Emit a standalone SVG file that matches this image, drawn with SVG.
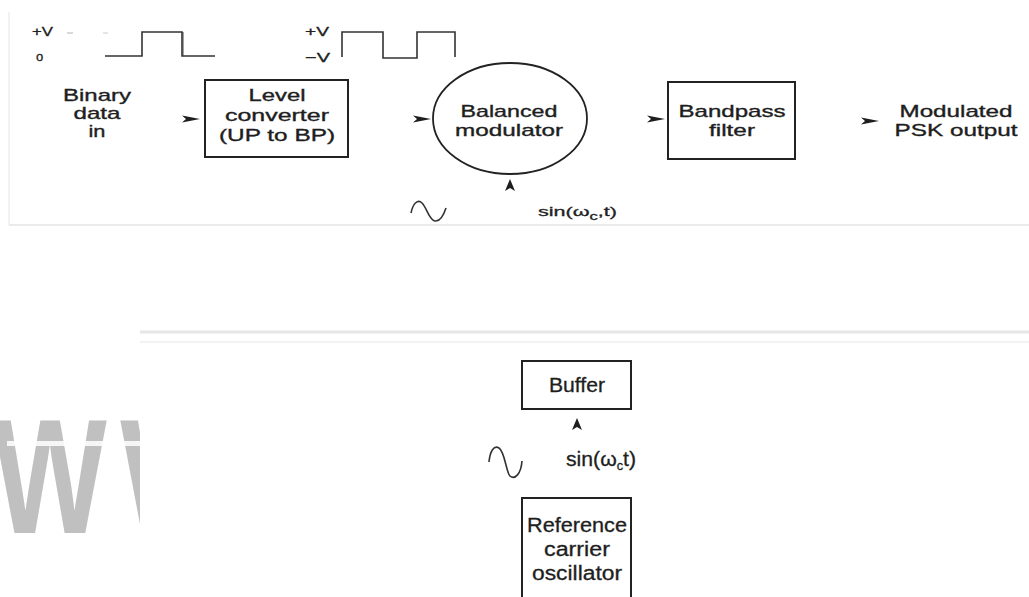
<svg xmlns="http://www.w3.org/2000/svg" width="1029" height="597" viewBox="0 0 1029 597">
<style>
.t{font-family:"Liberation Sans",Arial,sans-serif;font-size:17px;fill:#1e1e1e;stroke:#1e1e1e;stroke-width:0.35;text-anchor:middle}
.b{font-family:"Liberation Sans",Arial,sans-serif;font-size:20px;fill:#1e1e1e;stroke:#1e1e1e;stroke-width:0.3;text-anchor:middle}
.lbl{font-family:"Liberation Sans",Arial,sans-serif;font-size:13px;fill:#222;stroke:#222;stroke-width:0.3}
.box{fill:none;stroke:#222;stroke-width:2}
.wave{fill:none;stroke:#333;stroke-width:1.6}
.ah{fill:#1e1e1e}
</style>
<defs>
<path id="ah" d="M-18,-3.5 L0,0 L-18,3.5 L-14,0 Z"/>
<path id="au" d="M0,0 L5,12 L0,9 L-5,12 Z"/>
<clipPath id="wm"><rect x="0" y="300" width="140" height="297"/></clipPath>
</defs>
<rect width="1029" height="597" fill="#fff"/>
<g id="frame">
<line x1="9" y1="12" x2="9" y2="225" stroke="#f2f2f2" stroke-width="2"/>
<line x1="9" y1="225" x2="1029" y2="225" stroke="#ebebeb" stroke-width="2"/>
<line x1="140" y1="332" x2="1029" y2="332" stroke="#e6e6e6" stroke-width="3"/>
<line x1="140" y1="342" x2="1029" y2="342" stroke="#f3f3f3" stroke-width="2"/>
</g>
<g id="watermark" clip-path="url(#wm)">
<text x="0" y="533" transform="translate(-7 0) scale(0.74 1)" font-family="Liberation Sans,Arial,sans-serif" font-weight="bold" font-size="163" fill="#c0c0c0" letter-spacing="18">WW</text>
<rect x="7" y="441" width="133" height="5" fill="#fff" opacity="0.85"/>
</g>
<g id="waveform-unipolar">
<text class="lbl" x="32" y="36" textLength="21" lengthAdjust="spacingAndGlyphs">+V</text>
<text class="lbl" x="36" y="61">o</text>
<line x1="67" y1="33" x2="73" y2="33" stroke="#ccc" stroke-width="1.5"/>
<line x1="103" y1="33" x2="108" y2="33" stroke="#ddd" stroke-width="1.5"/>
<path class="wave" d="M105,56 H142 V32 H182 V56 H215"/>
<line x1="183" y1="32" x2="183" y2="56" stroke="#444" stroke-width="1"/>
</g>
<g id="waveform-bipolar">
<text class="lbl" x="305" y="36" textLength="24" lengthAdjust="spacingAndGlyphs">+V</text>
<text class="lbl" x="305" y="62" textLength="25" lengthAdjust="spacingAndGlyphs">−V</text>
<path class="wave" d="M342,57 V32 H383 V58 H417 V32 H455 V57"/>
</g>
<g id="binary-in">
<text class="t" x="97" y="101" textLength="68" lengthAdjust="spacingAndGlyphs">Binary</text>
<text class="t" x="97" y="119" textLength="47" lengthAdjust="spacingAndGlyphs">data</text>
<text class="t" x="97" y="137" textLength="17" lengthAdjust="spacingAndGlyphs">in</text>
</g>
<g id="level-converter">
<rect class="box" x="205" y="80" width="143" height="77"/>
<text class="t" x="277" y="101" textLength="57" lengthAdjust="spacingAndGlyphs">Level</text>
<text class="t" x="277" y="121" textLength="104" lengthAdjust="spacingAndGlyphs">converter</text>
<text class="t" x="277" y="141" textLength="116" lengthAdjust="spacingAndGlyphs">(UP to BP)</text>
</g>
<g id="balanced-modulator">
<ellipse cx="510" cy="118.5" rx="77" ry="55.5" fill="none" stroke="#222" stroke-width="1.8"/>
<text class="t" x="509" y="117" textLength="97" lengthAdjust="spacingAndGlyphs">Balanced</text>
<text class="t" x="509" y="136" textLength="108" lengthAdjust="spacingAndGlyphs">modulator</text>
</g>
<g id="carrier-top">
<path class="wave" d="M411,213 C413,203 418,199 422,203 C427,208 429,220 435,221 C441,222 444,214 446,208"/>
<text class="lbl" x="538" y="216" font-size="16" textLength="79" lengthAdjust="spacingAndGlyphs">sin(ω<tspan font-size="10" dy="4">c</tspan><tspan dy="-4">,t)</tspan></text>
</g>
<g id="bandpass-filter">
<rect class="box" x="668" y="82" width="127" height="77"/>
<text class="t" x="732" y="117" textLength="107" lengthAdjust="spacingAndGlyphs">Bandpass</text>
<text class="t" x="732" y="136" textLength="46" lengthAdjust="spacingAndGlyphs">filter</text>
</g>
<g id="psk-output">
<text class="t" x="956" y="117" textLength="113" lengthAdjust="spacingAndGlyphs">Modulated</text>
<text class="t" x="956" y="136" textLength="123" lengthAdjust="spacingAndGlyphs">PSK output</text>
</g>
<g id="buffer">
<rect class="box" x="522" y="361" width="109" height="48"/>
<text class="b" x="577" y="392" textLength="56" lengthAdjust="spacingAndGlyphs">Buffer</text>
</g>
<g id="carrier-bottom">
<path class="wave" d="M489,462 C490,451 494,445 499,448 C505,452 506,472 510,476 C515,480 521,474 522,461"/>
<text class="b" x="601" y="466" text-anchor="start" font-size="19" textLength="70" lengthAdjust="spacingAndGlyphs">sin(ω<tspan font-size="12" dy="4">c</tspan><tspan dy="-4">t)</tspan></text>
</g>
<g id="reference-oscillator">
<path class="box" d="M522,600 V498 H631 V600"/>
<text class="b" x="577" y="532" textLength="100" lengthAdjust="spacingAndGlyphs">Reference</text>
<text class="b" x="577" y="556" textLength="66" lengthAdjust="spacingAndGlyphs">carrier</text>
<text class="b" x="577" y="580" textLength="90" lengthAdjust="spacingAndGlyphs">oscillator</text>
</g>
<g id="connectors" class="ah">
<use href="#ah" x="200" y="119"/>
<use href="#ah" x="431" y="119"/>
<use href="#ah" x="665" y="119"/>
<use href="#ah" x="879" y="121"/>
<use href="#au" x="510" y="179"/>
<use href="#au" x="577" y="418"/>
</g>
</svg>
